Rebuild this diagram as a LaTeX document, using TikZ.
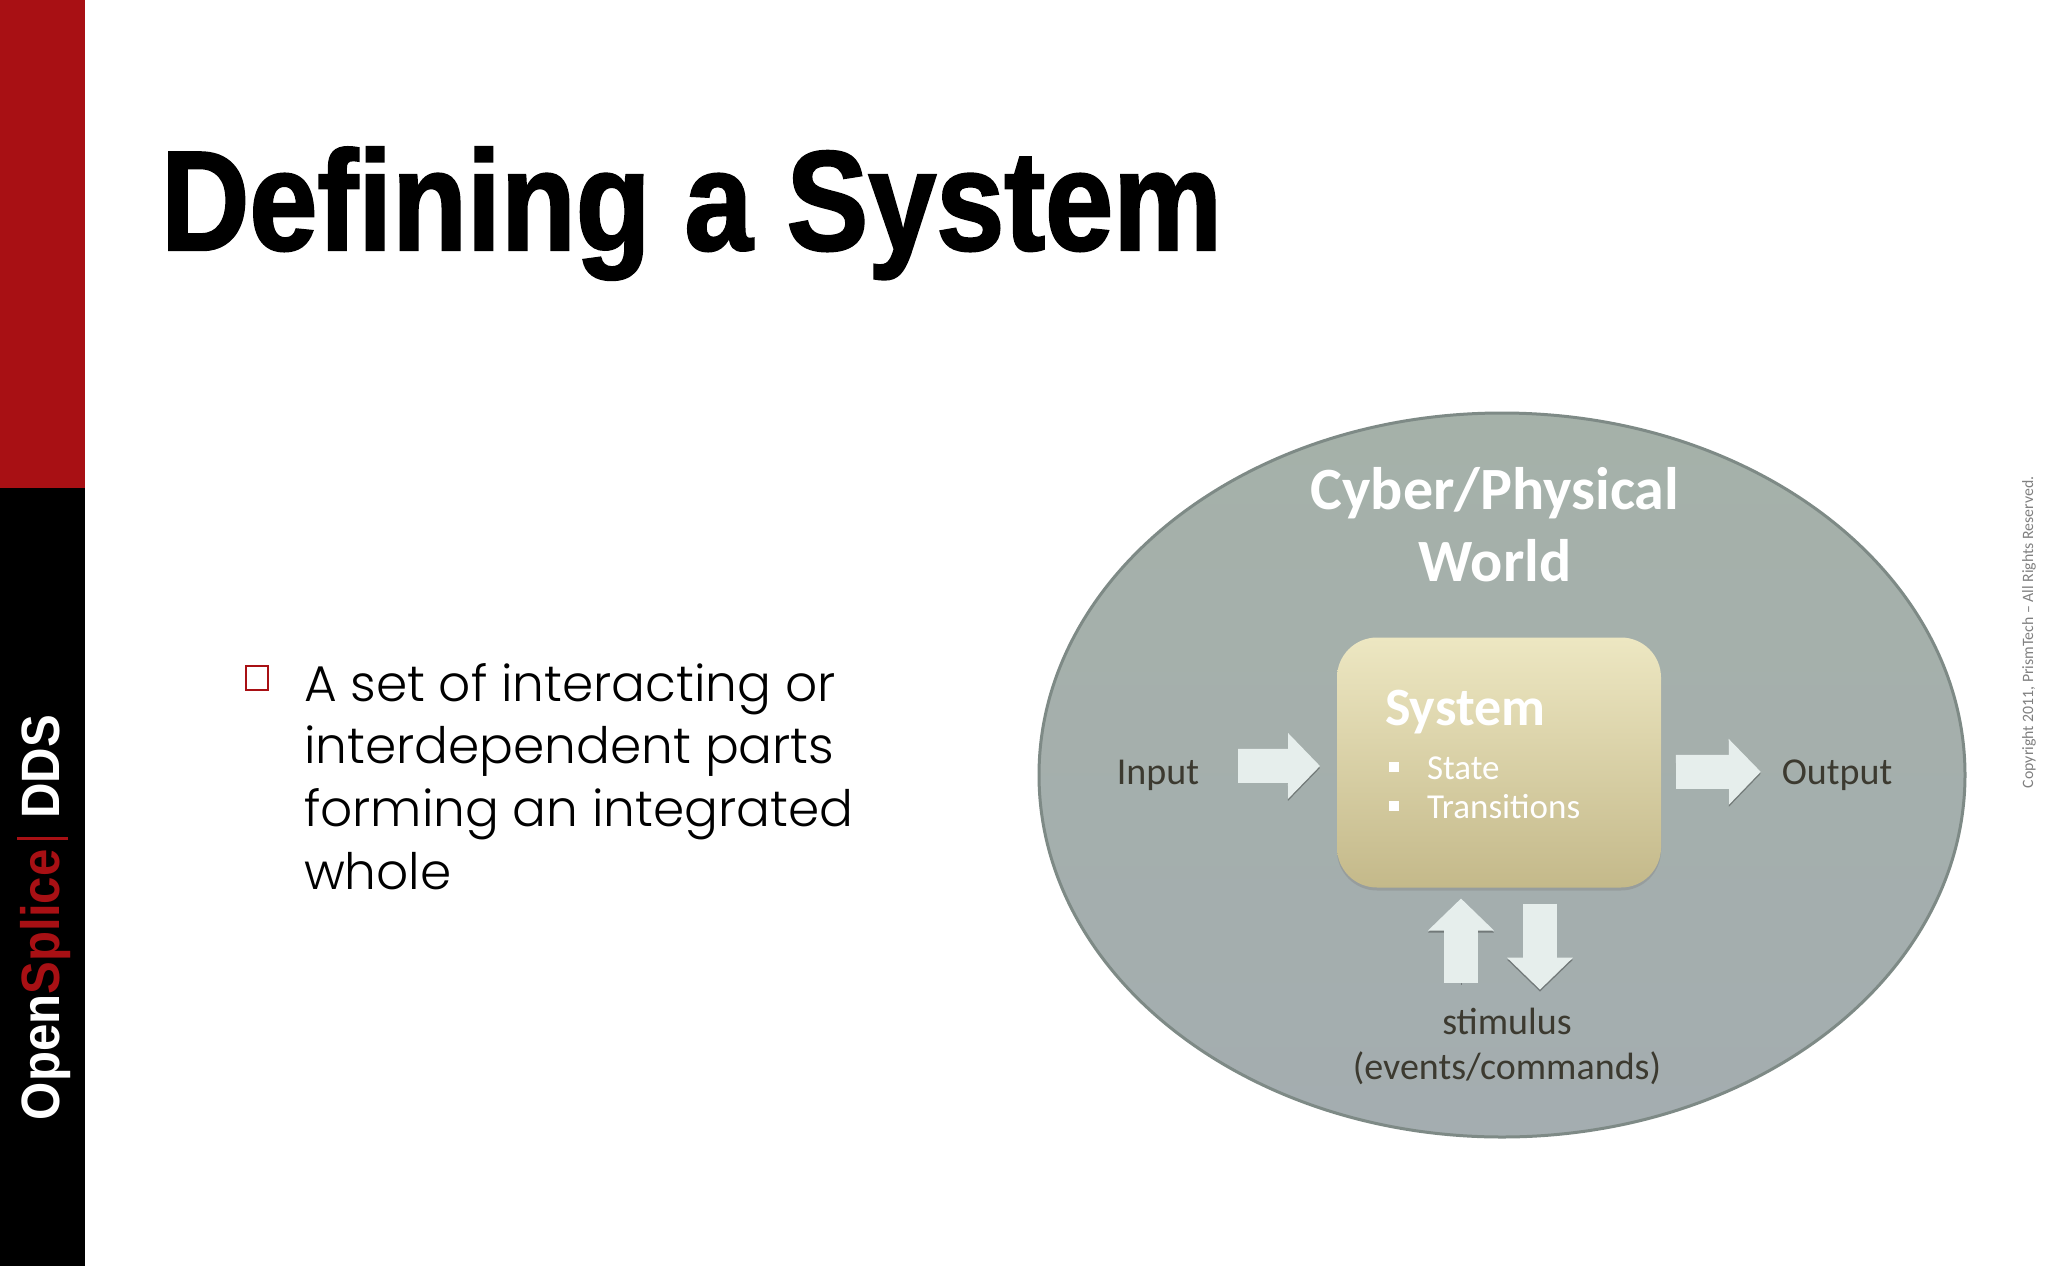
\documentclass[tikz,border=0pt]{standalone}
\usepackage{fontspec}
\usepackage{xcolor}
\usepackage{tikz}
\usetikzlibrary{arrows.meta,shadows,shapes.geometric}
\setmainfont{Carlito}
\newfontfamily\titlefont[FakeStretch=.862,FakeBold=1.6]{Liberation Sans}
\newfontfamily\logofont[FakeStretch=.91]{Liberation Sans}
\newfontfamily\bodyfont{Poppins Light}
\definecolor{slidered}{HTML}{A81014}
\definecolor{worldedge}{HTML}{7E8A86}
\definecolor{labeltext}{HTML}{3C3A30}
\definecolor{arrowfill}{HTML}{E6EEEC}
\definecolor{worldtop}{HTML}{A5B1A9}
\definecolor{worldbottom}{HTML}{A4ADB0}
\definecolor{systop}{HTML}{EDE7C2}
\definecolor{sysbottom}{HTML}{C4B98A}
\begin{document}
\begin{tikzpicture}[x=1pt,y=-1pt]
\tikzstyle{every node}+=[inner sep=0pt,outer sep=0pt]
\tikzstyle{world}=[ellipse,draw=worldedge,line width=3pt,top color=worldtop,bottom color=worldbottom,minimum width=926pt,minimum height=724pt]
\tikzstyle{sysbox}=[rectangle,rounded corners=40pt,top color=systop,bottom color=sysbottom,minimum width=324pt,minimum height=250pt,drop shadow={shadow xshift=0pt,shadow yshift=-3pt,opacity=.35}]
\tikzstyle{label}=[text=labeltext,font=\fontsize{38}{45}\selectfont,align=center]
\tikzstyle{sysitem}=[text=white,anchor=base west,font=\fontsize{35}{38}\selectfont]
\tikzstyle{blockarrow}=[draw=arrowfill,line width=34pt,-{Triangle[length=32pt,width=64pt]},preaction={draw=black,opacity=.3,transform canvas={yshift=-2pt}}]
\useasboundingbox (0,0) rectangle (2048,1266);
\fill [white] (0,0) rectangle (2048,1266);
\fill [slidered] (0,0) rectangle (85,488);
\fill [black] (0,488) rectangle (85,1266);
\node (logo) [rotate=90,anchor=base west,text=white,font=\logofont\bfseries\fontsize{54}{54}\selectfont] at (59,1120) {Open\textcolor{slidered}{Splice}\hspace{10pt}\textcolor{slidered}{\rule[-9pt]{3pt}{51pt}}\hspace{18pt}DDS};
\node (title) [anchor=base west,text=black,font=\titlefont\bfseries\fontsize{142}{142}\selectfont] at (161,250) {Defining a System};
\node (bullet) [rectangle,draw=slidered,line width=2.5pt,fill=white,minimum width=22pt,minimum height=24pt] at (257,678) {};
\node (body) [anchor=north west,align=left,text=black,font=\bodyfont\fontsize{50.2}{62.7}\selectfont] at (304,663) {A set of interacting or\\interdependent parts\\forming an integrated\\whole};
\node (worldshape) [world] at (1502,775) {};
\node (cyber) [text=white,align=center,anchor=base,font=\bfseries\fontsize{60}{71.8}\selectfont] at (1495,581) {Cyber/Physical\\World};
\node (sys) [sysbox] at (1499,762.5) {};
\node (systitle) [text=white,anchor=base west,font=\bfseries\fontsize{54}{54}\selectfont] at (1385,725) {System};
\node (stateitem) [sysitem] at (1389,779) {\rule[7pt]{10pt}{10pt}\hspace{28pt}State};
\node (transitem) [sysitem] at (1389,818) {\rule[7pt]{10pt}{10pt}\hspace{28pt}Transitions};
\node (input) [label,anchor=base] at (1158,784) {Input};
\node (output) [label,anchor=base] at (1837,784) {Output};
\node (stim) [label,anchor=base] at (1507,1079) {stimulus\\(events/commands)};
\draw [blockarrow,shorten <=39pt,shorten >=17pt] ([yshift=9pt]input.east) -- ([yshift=-3.5pt]sys.west);
\draw [blockarrow,shorten <=15pt,shorten >=21pt] ([yshift=-9.5pt]sys.east) -- ([yshift=3pt]output.west);
\draw [blockarrow,shorten <=25pt,shorten >=11pt] ([xshift=-46pt]stim.north) -- ([xshift=-38pt]sys.south);
\draw [blockarrow,shorten <=16pt,shorten >=18pt] ([xshift=41pt]sys.south) -- ([xshift=33pt]stim.north);
\node (copyright) [rotate=90,anchor=base west,text=black!50,font=\fontsize{15.8}{15.8}\selectfont] at (2033,788) {Copyright 2011, PrismTech -- All Rights Reserved.};
\end{tikzpicture}
\end{document}
